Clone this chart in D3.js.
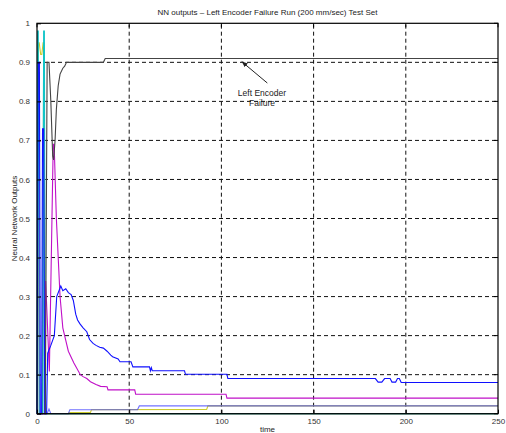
<!DOCTYPE html>
<html>
<head>
<meta charset="utf-8">
<script src="https://cdn.jsdelivr.net/npm/d3@7"></script>
<style>
  body { margin: 0; background: #fff; }
  text { font-family: "Liberation Sans", Arial, sans-serif; fill: #222; }
</style>
</head>
<body>
<div id="chart"></div>
<script>
// chart text
const titleText = 'NN outputs \u2013 Left Encoder Failure Run (200 mm/sec) Test Set';
const xLabel = 'time';
const yLabel = 'Neural Network Outputs';
const xTicks = [0, 50, 100, 150, 200, 250];
const yTicks = [0, 0.1, 0.2, 0.3, 0.4, 0.5, 0.6, 0.7, 0.8, 0.9, 1];
const noteLines = ['Left Encoder', 'Failure'];

// series, [time, output]
const blackSeries = [[0,0],[4.5,0],[5.5,0.9],[6.5,0.9],[7.5,0.8],[8.5,0.66],[9,0.65],[9.8,0.7],[10.5,0.78],
  [11.5,0.84],[12.5,0.87],[14,0.885],[15,0.89],[16,0.9],[36,0.9],[37,0.91],[250,0.91]];
const magentaSeries = [[0,0],[4.2,0],[4.7,0.34],[6.7,0.108],[8.8,0.69],[9.3,0.69],[10.5,0.5],[12.5,0.3],
  [14,0.22],[15.5,0.19],[17,0.16],[20,0.13],[23.5,0.1],[25,0.095],[27,0.09],[29,0.082],[32,0.075],
  [34.5,0.07],[38,0.069],[38.5,0.061],[53,0.061],[53.5,0.05],[102.5,0.05],[103,0.04],[250,0.04]];
const blueSeries = [[0,0],[0.7,0.9],[1.3,0.9],[1.8,0],[2.5,0],[3,0.73],[3.6,0.73],[4.2,0],[5.2,0],
  [5.8,0.155],[7.5,0.175],[9.4,0.2],[10.7,0.3],[12.9,0.327],[14,0.315],[15.6,0.32],[17,0.31],[18.5,0.305],
  [19.7,0.29],[21,0.255],[22,0.24],[23.3,0.23],[25,0.22],[27,0.21],[28.5,0.19],[30.4,0.18],[32,0.175],
  [34,0.17],[36,0.168],[38,0.16],[40,0.15],[41,0.146],[44,0.14],[45,0.133],[51,0.133],[52,0.12],
  [61,0.12],[61.5,0.11],[62,0.118],[62.5,0.11],[80,0.11],[80.5,0.101],[103,0.101],[103.5,0.09],
  [183.5,0.09],[185,0.081],[187,0.081],[188.5,0.09],[191.5,0.09],[192.5,0.081],[194.5,0.081],
  [195.5,0.09],[196.5,0.09],[197.5,0.08],[250,0.08]];
const lightBlueSeries = [[0,0],[5.5,0],[6.5,0.012],[7.5,0],[17,0],[17.8,0.01],[54.5,0.01],[55.5,0.02],[250,0.02]];
const yellowSeries = [[0,0],[0.8,0.95],[1.2,0.95],[2,0.92],[2.6,0.92],[3.3,0.95],[3.8,0.95],[4.6,0],
  [17,0],[17.5,0.003],[29,0.003],[29.5,0.01],[92,0.011],[92.7,0.02],[250,0.02]];
const greenSeries = [[0,0],[3,0],[3.6,0.95],[4.4,0],[250,0]];
const cyanSeries = [[0,0],[0.3,0.98],[0.7,0.98],[1.2,0],[3.2,0],[3.6,0.98],[4,0.98],[4.5,0],[250,0]];
const redSeries = [[0,0],[0.9,0.6],[1.3,0],[250,0]];

// arrow: tail then tip, plus where the note sits
const notePoint = [122, 0.815];
const arrowPts = [[124.9, 0.847], [111, 0.902]];

const W = 506, H = 433;
const margin = {top: 23.3, right: 8, bottom: 19.3, left: 37};

const svg = d3.select('#chart').append('svg')
  .attr('width', W).attr('height', H);

const x = d3.scaleLinear().domain([0, 250]).range([margin.left, W - margin.right]);
const y = d3.scaleLinear().domain([0, 1]).range([H - margin.bottom, margin.top]);

// grid
svg.append('g').selectAll('line')
  .data(yTicks.slice(1, -1))
  .enter().append('line')
  .attr('x1', x(0)).attr('x2', x(250))
  .attr('y1', d => y(d)).attr('y2', d => y(d))
  .attr('stroke', '#111').attr('stroke-width', 1).attr('stroke-dasharray', '4,3');
svg.append('g').selectAll('line')
  .data(xTicks.slice(1, -1))
  .enter().append('line')
  .attr('x1', d => x(d)).attr('x2', d => x(d))
  .attr('y1', y(0)).attr('y2', y(1))
  .attr('stroke', '#111').attr('stroke-width', 1).attr('stroke-dasharray', '4,3');

// lines
const line = d3.line().x(d => x(d[0])).y(d => y(d[1]));
const series = [
  {data: redSeries, color: '#ff6060', op: 1},
  {data: greenSeries, color: '#2f8f4f', op: 1},
  {data: yellowSeries, color: '#cccc30', op: 1},
  {data: cyanSeries, color: '#10c4c8', op: 1},
  {data: lightBlueSeries, color: '#3a3aff', op: 0.72},
  {data: magentaSeries, color: '#c010c8', op: 1},
  {data: blueSeries, color: '#1010ff', op: 1},
  {data: blackSeries, color: '#444', op: 1}
];
svg.append('g').selectAll('path')
  .data(series)
  .enter().append('path')
  .attr('d', d => line(d.data))
  .attr('fill', 'none')
  .attr('stroke', d => d.color)
  .attr('stroke-opacity', d => d.op)
  .attr('stroke-width', 1.1);

// axes
const xAxis = d3.axisBottom(x).tickValues(xTicks).tickSize(-4).tickPadding(7).tickFormat(d3.format('d'));
const yAxis = d3.axisLeft(y).tickValues(yTicks).tickSize(-4).tickPadding(7).tickFormat(d => d === 0 || d === 1 ? d : d3.format('.1f')(d));
const gx = svg.append('g').attr('transform', `translate(0,${y(0)})`).call(xAxis);
const gy = svg.append('g').attr('transform', `translate(${x(0)},0)`).call(yAxis);
[gx, gy].forEach(g => {
  g.select('.domain').remove();
  g.selectAll('line').attr('stroke', '#000');
  g.selectAll('text').attr('font-size', 8).style('fill', '#333');
});
gx.selectAll('text').attr('dy', '0.45em');

// top and right ticks
svg.append('g').selectAll('line').data(xTicks).enter().append('line')
  .attr('x1', d => x(d)).attr('x2', d => x(d)).attr('y1', y(1)).attr('y2', y(1) + 4).attr('stroke', '#000');
svg.append('g').selectAll('line').data(yTicks).enter().append('line')
  .attr('x1', x(250)).attr('x2', x(250) - 4).attr('y1', d => y(d)).attr('y2', d => y(d)).attr('stroke', '#000');

// box
svg.append('rect')
  .attr('x', x(0)).attr('y', y(1))
  .attr('width', x(250) - x(0)).attr('height', y(0) - y(1))
  .attr('fill', 'none').attr('stroke', '#000').attr('stroke-width', 1.2);

// annotation
svg.append('defs').append('marker')
  .attr('id', 'head').attr('viewBox', '0 0 10 10').attr('refX', 10).attr('refY', 5)
  .attr('markerWidth', 6).attr('markerHeight', 6).attr('orient', 'auto')
  .append('path').attr('d', 'M0,1 L10,5 L0,9 z').attr('fill', '#222');
svg.append('line')
  .attr('x1', x(arrowPts[0][0])).attr('y1', y(arrowPts[0][1]))
  .attr('x2', x(arrowPts[1][0])).attr('y2', y(arrowPts[1][1]))
  .attr('stroke', '#222').attr('stroke-width', 1).attr('marker-end', 'url(#head)');
svg.append('g').selectAll('text').data(noteLines).enter().append('text')
  .attr('x', x(notePoint[0]))
  .attr('y', (d, i) => y(notePoint[1]) + i * 10.5)
  .attr('text-anchor', 'middle').attr('font-size', 8.5)
  .text(d => d);

// titles
svg.append('text').attr('x', (x(0) + x(250)) / 2).attr('y', 15)
  .attr('text-anchor', 'middle').attr('font-size', 8).text(titleText);
svg.append('text').attr('x', (x(0) + x(250)) / 2).attr('y', 432)
  .attr('text-anchor', 'middle').attr('font-size', 8).text(xLabel);
svg.append('text')
  .attr('transform', `translate(17,${(y(0) + y(1)) / 2}) rotate(-90)`)
  .attr('text-anchor', 'middle').attr('font-size', 8).text(yLabel);
</script>
</body>
</html>
